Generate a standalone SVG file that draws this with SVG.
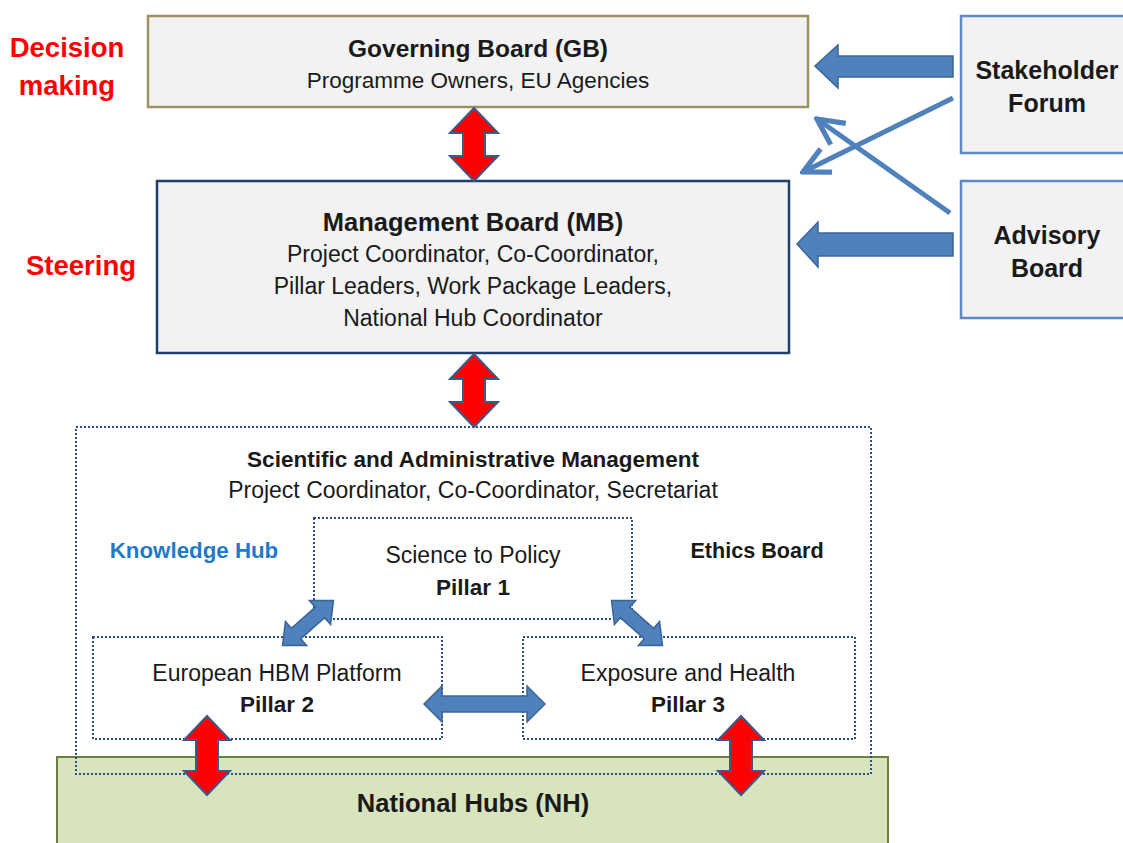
<svg xmlns="http://www.w3.org/2000/svg" width="1123" height="843" viewBox="0 0 1123 843">
<defs>
<style>
text{font-family:"Liberation Sans",Arial,sans-serif;fill:#1a1a1a;text-anchor:middle}
.b{font-weight:bold}
.red{fill:#ff0000;font-weight:bold;font-size:27.5px}
.box{fill:#f2f2f2}
.dot{fill:none;stroke:#2c4f85;stroke-width:2;stroke-dasharray:2 2}
.ra{fill:#ff0000;stroke:#3a5a8c;stroke-width:2;stroke-linejoin:miter}
.ba{fill:#4f81bd;stroke:#3b6496;stroke-width:1.5}
.thin{fill:none;stroke:#4f81bd;stroke-width:5}
</style>
<marker id="chev" viewBox="0 0 10 10" refX="9" refY="5" markerWidth="6.5" markerHeight="6.5" orient="auto" markerUnits="strokeWidth">
<polyline points="1,1 9,5 1,9" fill="none" stroke="#4f81bd" stroke-width="1.6"/>
</marker>
</defs>
<rect width="1123" height="843" fill="#ffffff"/>

<g id="labels">
<text class="red" x="67" y="57">Decision</text>
<text class="red" x="67" y="95">making</text>
<text class="red" x="81" y="275">Steering</text>
</g>

<g id="nh">
<rect x="57" y="757" width="831" height="95" fill="#d7e4bd" stroke="#6f7d3e" stroke-width="2"/>
<text class="b" x="473" y="812" font-size="25.5">National Hubs (NH)</text>
</g>

<g id="gb">
<rect class="box" x="148" y="16" width="660" height="91" stroke="#9c9160" stroke-width="2.5"/>
<text class="b" x="478" y="57" font-size="24.5">Governing Board (GB)</text>
<text x="478" y="88" font-size="22.5">Programme Owners, EU Agencies</text>
</g>

<g id="mb">
<rect class="box" x="157" y="181" width="632" height="172" stroke="#1f3f6e" stroke-width="2.5"/>
<text class="b" x="473" y="231" font-size="25.5">Management Board (MB)</text>
<text x="473" y="262" font-size="23">Project Coordinator, Co-Coordinator,</text>
<text x="473" y="294" font-size="23">Pillar Leaders, Work Package Leaders,</text>
<text x="473" y="326" font-size="23">National Hub Coordinator</text>
</g>

<g id="sf">
<rect class="box" x="961" y="16" width="175" height="137" stroke="#5b8ac6" stroke-width="2.5"/>
<text class="b" x="1047" y="79" font-size="25">Stakeholder</text>
<text class="b" x="1047" y="112" font-size="25">Forum</text>
</g>

<g id="ab">
<rect class="box" x="961" y="181" width="175" height="137" stroke="#5b8ac6" stroke-width="2.5"/>
<text class="b" x="1047" y="244" font-size="25">Advisory</text>
<text class="b" x="1047" y="277" font-size="25">Board</text>
</g>

<g id="sam">
<rect class="dot" x="76" y="427" width="795" height="347"/>
<text class="b" x="473" y="467" font-size="22.5">Scientific and Administrative Management</text>
<text x="473" y="498" font-size="23">Project Coordinator, Co-Coordinator, Secretariat</text>
<text class="b" x="194" y="558" font-size="22.3" style="fill:#1f7ac8">Knowledge Hub</text>
<text class="b" x="757" y="558" font-size="21.6">Ethics Board</text>
</g>

<g id="p1">
<rect class="dot" x="314" y="518" width="318" height="101"/>
<text x="473" y="563" font-size="23">Science to Policy</text>
<text class="b" x="473" y="595" font-size="22.5">Pillar 1</text>
</g>

<g id="p2">
<rect class="dot" x="93" y="637" width="349" height="102"/>
<text x="277" y="681" font-size="23">European HBM Platform</text>
<text class="b" x="277" y="712" font-size="22.5">Pillar 2</text>
</g>

<g id="p3">
<rect class="dot" x="523" y="637" width="332" height="102"/>
<text x="688" y="681" font-size="23">Exposure and Health</text>
<text class="b" x="688" y="712" font-size="22.5">Pillar 3</text>
</g>

<g id="connectors">
<path class="ba" d="M953,56 L838,56 L838,45 L815,66 L838,88 L838,77 L953,77 Z"/>
<path class="ba" d="M953,233 L818,233 L818,222 L797,244 L818,267 L818,256 L953,256 Z"/>
<line class="thin" x1="953" y1="98" x2="803" y2="172" marker-end="url(#chev)"/>
<line class="thin" x1="950" y1="213" x2="817" y2="119" marker-end="url(#chev)"/>
<path class="ra" d="M474,108 L498,133 L485,133 L485,156 L498,156 L474,181 L450,156 L463,156 L463,133 L450,133 Z"/>
<path class="ra" d="M474,354 L498,379 L485,379 L485,402 L498,402 L474,427 L450,402 L463,402 L463,379 L450,379 Z"/>
<path class="ra" d="M207,716 L230,740 L218,740 L218,771 L230,771 L207,795 L184,771 L196,771 L196,740 L184,740 Z"/>
<path class="ra" d="M741,716 L764,740 L752,740 L752,771 L764,771 L741,795 L718,771 L730,771 L730,740 L718,740 Z"/>
<path class="ba" d="M424,704 L442,686 L442,696 L527,696 L527,686 L545,704 L527,722 L527,712 L442,712 L442,722 Z"/>
<g transform="translate(308,623) rotate(-41.5)">
<path class="ba" d="M-34,0 L-16,-16 L-16,-7 L16,-7 L16,-16 L34,0 L16,16 L16,7 L-16,7 L-16,16 Z"/>
</g>
<g transform="translate(637,623) rotate(41.5)">
<path class="ba" d="M-34,0 L-16,-16 L-16,-7 L16,-7 L16,-16 L34,0 L16,16 L16,7 L-16,7 L-16,16 Z"/>
</g>
</g>
</svg>
